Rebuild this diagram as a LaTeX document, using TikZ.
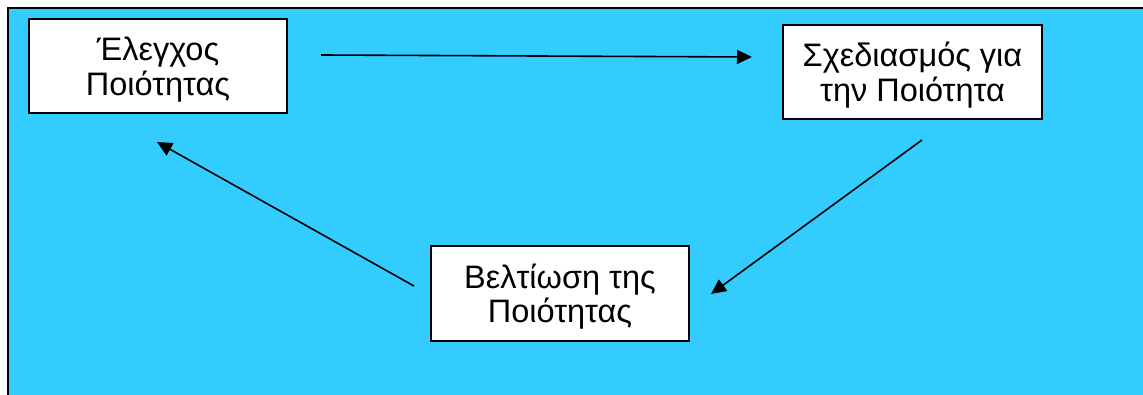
\documentclass[tikz,border=0pt]{standalone}
\usepackage{fontspec}
\setmainfont{Liberation Sans}
\usetikzlibrary{arrows.meta}
\definecolor{skyfill}{HTML}{33CCFF}
\begin{document}
\begin{tikzpicture}[x=1pt,y=-1pt,
  stagebox/.style={draw=black, line width=1.2pt, fill=white, inner sep=0pt,
    align=center, text depth=0pt, font=\fontsize{32.5}{34.5}\selectfont},
  flow/.style={draw=black, line width=1.6pt,
    -{Triangle[length=15pt,width=14pt]}}]
  \useasboundingbox (0,0) rectangle (1143,395);
  \clip (0,0) rectangle (1143,395);
  % backdrop: white page with a framed sky-blue panel
  \fill[white] (0,0) rectangle (1143,395);
  \filldraw[fill=skyfill, draw=black, line width=2.5pt] (8,8) rectangle (1160,410);
  % the three stages of the cycle
  \node[stagebox, minimum width=258pt, minimum height=94pt] (qc) at (158,66)
    {Έλεγχος\\Ποιότητας};
  \node[stagebox, minimum width=259pt, minimum height=94pt] (plan) at (912.5,72)
    {Σχεδιασμός για\\την Ποιότητα};
  \node[stagebox, minimum width=258pt, minimum height=95pt] (improve) at (560,293.5)
    {Βελτίωση της\\Ποιότητας};
  % arrow end points
  \coordinate (a1s) at (321,55);
  \coordinate (a1e) at (752,57);
  \coordinate (a2s) at (922,140);
  \coordinate (a2e) at (711,294);
  \coordinate (a3s) at (414,286);
  \coordinate (a3e) at (157,142);
  \draw[flow] (a1s) -- (a1e);
  \draw[flow] (a2s) -- (a2e);
  \draw[flow] (a3s) -- (a3e);
\end{tikzpicture}
\end{document}
